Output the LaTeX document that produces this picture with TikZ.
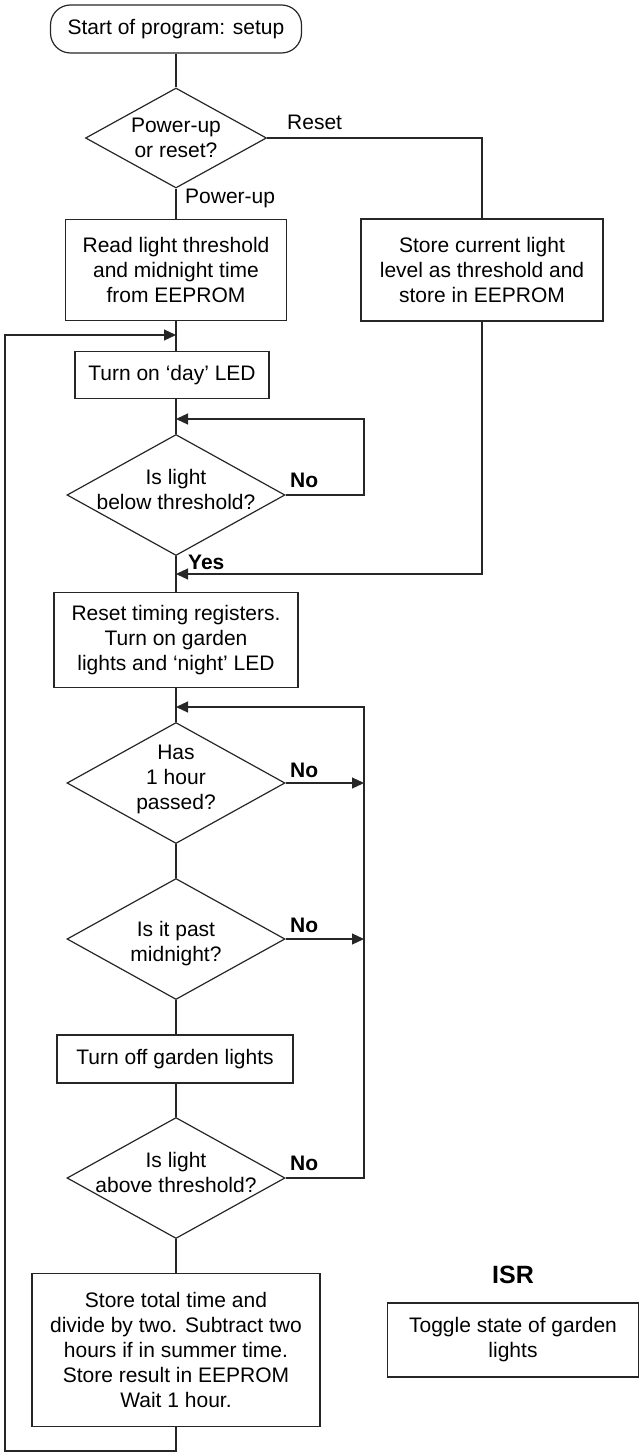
\documentclass[tikz,border=0pt]{standalone}
\usepackage{fontspec}
\setmainfont{Liberation Sans}
\usetikzlibrary{arrows.meta, shapes.geometric}
\tikzset{
    %Define standard arrow tip
    >={Triangle[length=12pt,width=11pt]},
}
\begin{document}
\begin{tikzpicture}[
  x=1pt, y=-1pt,
  every node/.style = {shape=rectangle, align=center, inner sep=0pt,
                       font=\fontsize{21}{25}\selectfont},
  wire/.style = {draw=black!85, line width=1.2pt},
  box/.style = {draw=black!85, line width=1.2pt},
  term/.style = {box, rounded corners=20pt, minimum width=251pt, minimum height=48pt},
  dec/.style = {box, shape=diamond, minimum width=218pt, minimum height=121pt},
  cond/.style = {font=\fontsize{21}{25}\selectfont\bfseries, anchor=west},
  lbl/.style = {anchor=west} ]
  \useasboundingbox (0,0) rectangle (640,1455);

  \node[term] (start) at (176,29) {Start of program: setup};
  \node[dec, minimum width=181pt, minimum height=100pt] (pwr) at (176,138) {};
  \node (pwrt) at (pwr) {Power-up\\or reset?};
  \node[box, minimum width=221pt, minimum height=101pt] (read) at (176,270)
    {Read light threshold\\and midnight time\\from EEPROM};
  \node[box, minimum width=242pt, minimum height=102pt] (store) at (482,270)
    {Store current light\\level as threshold and\\store in EEPROM};
  \node[box, minimum width=194pt, minimum height=47pt] (day) at (172,375) {Turn on ‘day’ LED};
  \node[dec] (below) at (176,495) {};
  \node (belowt) at ([yshift=6pt]below.center) {Is light\\below threshold?};
  \node[box, minimum width=244pt, minimum height=95pt] (timer) at (176,640)
    {Reset timing registers.\\Turn on garden\\lights and ‘night’ LED};
  \node[dec] (hour) at (176,783) {};
  \node (hourt) at ([yshift=4pt]hour.center) {Has\\1 hour\\passed?};
  \node[dec] (midn) at (176,939) {};
  \node (midnt) at ([yshift=-5pt]midn.center) {Is it past\\midnight?};
  \node[box, minimum width=236pt, minimum height=48pt] (off) at (175,1059) {Turn off garden lights};
  \node[dec] (above) at (176,1178) {};
  \node (abovet) at ([yshift=6pt]above.center) {Is light\\above threshold?};
  \node[box, minimum width=288pt, minimum height=153pt] (total) at (176,1350)
    {Store total time and\\divide by two. Subtract two\\hours if in summer time.\\Store result in EEPROM\\Wait 1 hour.};
  \node[font=\fontsize{25}{30}\selectfont\bfseries] (isrt) at (513,1275) {ISR};
  \node[box, minimum width=251pt, minimum height=74pt] (isr) at (513,1340) {Toggle state of garden\\lights};

  % branch labels
  \node[lbl] (reset) at (287,122) {Reset};
  \node[lbl] (pup) at (185,198) {Power-up};
  \node[cond] (no1) at (290,480) {No};
  \node[cond] (yes) at (188,562) {Yes};
  \node[cond] (no2) at (290,770) {No};
  \node[cond] (no3) at (290,925) {No};
  \node[cond] (no4) at (290,1163) {No};

  \coordinate (back) at (176,335);
  \coordinate (loopa) at (176,419);
  \coordinate (narail) at (364,419);
  \coordinate (join) at (176,574);
  \coordinate (loopb) at (176,707);
  \coordinate (rail) at (364,707);
  \coordinate (rb) at (176,1451);
  \coordinate (lb) at (5,1451);

  \draw[wire] (start) -- (pwr);
  \draw[wire] (pwr.east) -| (store.north);
  \draw[wire] (pwr) -- (read);
  \draw[wire] (read.south) -- (back) -- (back |- day.north);
  \draw[wire] (below.north |- day.south) -- (below.north);
  \draw[wire,->] (below.east) -| (narail) -- (loopa);
  \draw[wire] (below) -- (timer);
  \draw[wire,->] (store.south) |- (join);
  \draw[wire] (timer) -- (hour);
  \draw[wire,->] (hour.east) -- (hour.east -| rail);
  \draw[wire] (hour) -- (midn);
  \draw[wire,->] (midn.east) -- (midn.east -| rail);
  \draw[wire] (midn.south) -- (midn.south |- off.north);
  \draw[wire] (above.north |- off.south) -- (above.north);
  \draw[wire] (above) -- (total);
  \draw[wire,->] (above.east) -| (rail) -- (loopb);
  \draw[wire,->] (total.south) -- (rb) -- (lb) |- (back);
\end{tikzpicture}
\end{document}
